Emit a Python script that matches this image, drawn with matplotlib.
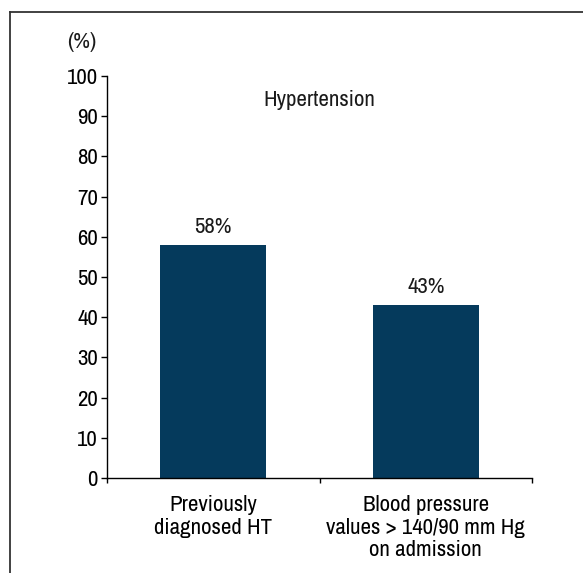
import matplotlib.pyplot as plt
from matplotlib.lines import Line2D
from matplotlib import font_manager

# 入院時の高血圧
categories = ['Previously\ndiagnosed HT', 'Blood pressure\nvalues > 140/90 mm Hg\non admission']
values = [58, 43]
yticks = list(range(0, 101, 10))

# 細めの書体を探す（なければ Roboto）
fam, stretch = 'Roboto', 'normal'
for f in font_manager.fontManager.ttflist:
    n = f.name.lower()
    if ('narrow' in n or 'condensed' in n) and f.style == 'normal' and f.weight in (400, 'normal', 'regular'):
        fam, stretch = f.name, f.stretch
        break
    if str(f.stretch) in ('condensed', 'semi-condensed', '500', '62.5') and f.weight in (400, 'normal'):
        fam, stretch = f.name, f.stretch
narrow = fam != 'Roboto'
fs = 16.5 if narrow else 12

plt.rcParams['font.family'] = [fam, 'DejaVu Sans']
plt.rcParams['font.stretch'] = stretch
plt.rcParams['font.size'] = fs
plt.rcParams['text.color'] = '#1a1a1a'

fig = plt.figure(figsize=(5.83, 5.73), dpi=100)
ax = fig.add_axes([107/583, 1 - 478/573, 425/583, 402/573])

x = list(range(len(values)))
ax.bar(x, values, width=0.5, color='#053a5c')
for xi, v in zip(x, values):
    ax.text(xi, v + 2.0, f'{v}%', ha='center', va='bottom', fontsize=fs)

ax.set_xlim(-0.5, 1.5)
ax.set_ylim(0, 100)
ax.set_yticks(yticks)
ax.set_xticks(x)
ax.set_xticklabels(categories, fontsize=fs, linespacing=1.15)
ax.set_xticks([-0.5, 0.5, 1.5], minor=True)
ax.tick_params(axis='x', which='major', length=0, pad=12.5)
ax.tick_params(axis='x', which='minor', length=3.5, direction='out', width=1)
ax.tick_params(axis='y', length=4.5, width=1, labelsize=fs, pad=2)
for s in ['top', 'right']:
    ax.spines[s].set_visible(False)
for s in ['left', 'bottom']:
    ax.spines[s].set_linewidth(1)

ax.text(0.5, 0.94, 'Hypertension', transform=ax.transAxes, ha='center', va='center', fontsize=fs)
fig.text(82/583, 1 - 42/573, '(%)', ha='center', va='center', fontsize=fs)

# 外枠
fig.add_artist(Line2D([10/583, 10/583], [0, 1 - 12/573], transform=fig.transFigure, color='#333333', lw=1.3))
fig.add_artist(Line2D([10/583, 1], [1 - 12/573, 1 - 12/573], transform=fig.transFigure, color='#333333', lw=1.3))

fig.savefig('out.png', dpi=100)
